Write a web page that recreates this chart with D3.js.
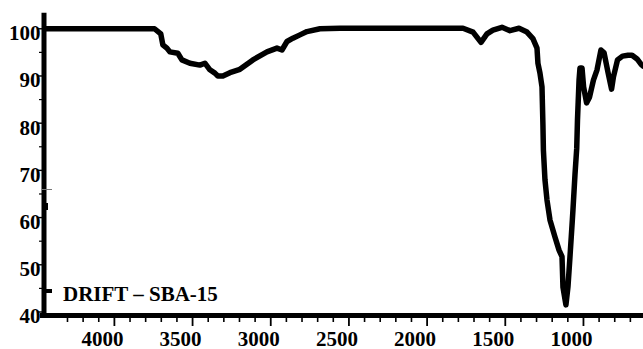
<!DOCTYPE html>
<html>
<head>
<meta charset="utf-8">
<script src="https://cdn.jsdelivr.net/npm/d3@7"></script>
<style>
  html, body { margin: 0; padding: 0; background: #fff; }
  svg { display: block; }
</style>
</head>
<body>
<svg id="chart" width="643" height="349"></svg>
<script>
// DRIFT spectrum of SBA-15: wavenumber (cm-1) and transmittance (%)
const wavenumber = [
  4440, 3740, 3700, 3687, 3661, 3642, 3591, 3565, 3514, 3450, 3418, 3386, 3354, 3335,
  3303, 3258, 3194, 3111, 3021, 2957, 2925, 2893, 2855, 2810, 2765, 2682, 2554, 1767,
  1703, 1652, 1614, 1576, 1518, 1467, 1409, 1358, 1320, 1294, 1288, 1275, 1262, 1256,
  1253, 1243, 1230, 1211, 1179, 1153, 1134, 1128, 1109, 1096, 1083, 1070, 1064, 1051,
  1040, 1035, 1025, 1019, 1006, 996, 977, 958, 933, 910, 885, 865, 840, 817,
  805, 779, 747, 712, 686, 654, 629, 616
];
const transmittance = [
  99.9, 99.9, 98.8, 96.5, 95.8, 95.0, 94.7, 93.3, 92.6, 92.2, 92.6, 91.2, 90.5, 89.9,
  89.9, 90.6, 91.3, 93.3, 95.0, 95.8, 95.4, 97.2, 97.9, 98.6, 99.3, 99.9, 100.0, 100.0,
  99.2, 97.0, 98.8, 99.6, 100.2, 99.5, 100.0, 99.2, 97.8, 95.8, 92.6, 90.5, 87.6, 79.5,
  74.2, 67.9, 63.6, 59.4, 55.8, 53.0, 51.6, 45.2, 41.4, 45.2, 51.6, 58.3, 61.5, 69.0,
  74.5, 80.6, 89.0, 91.6, 91.6, 87.6, 84.2, 85.4, 89.0, 91.2, 95.4, 94.8, 90.7, 87.1,
  89.7, 93.3, 94.1, 94.3, 94.3, 93.5, 92.4, 92.0
];
const xTickValues = [4000, 3500, 3000, 2500, 2000, 1500, 1000];
const xMinorTickValues = d3.range(700, 4400, 100).filter(v => v % 500 !== 0);
const yTickValues = [40, 50, 60, 70, 80, 90, 100];
const yMinorTickValues = [45, 55, 65, 75, 85, 95];
const sampleLabel = "DRIFT – SBA-15";

const svg = d3.select("#chart");
const font = "'Liberation Serif', 'Times New Roman', serif";

const x = d3.scaleLinear().domain([4447, 616]).range([44, 643]);
const y = d3.scaleLinear().domain([39.15, 103.3]).range([315.5, 12.7]);

// x axis: minor ticks, then major ticks with labels
svg.append("g")
  .attr("transform", "translate(0,318)")
  .call(d3.axisBottom(x).tickValues(xMinorTickValues).tickSize(4).tickFormat(""))
  .call(g => g.select(".domain").remove())
  .call(g => g.selectAll("line").attr("stroke", "#000").attr("stroke-width", 1.6));

svg.append("g")
  .attr("transform", "translate(0,318)")
  .call(d3.axisBottom(x).tickValues(xTickValues).tickSize(8).tickFormat(d3.format("d")))
  .call(g => g.select(".domain").remove())
  .call(g => g.selectAll("line").attr("stroke", "#000").attr("stroke-width", 1.8))
  .call(g => g.selectAll("text")
    .attr("y", 27.5).attr("dy", 0).attr("dx", -12)
    .attr("fill", "#000")
    .style("font-family", font).style("font-size", "21px").style("font-weight", "bold"));

// y axis: minor ticks, then major ticks with labels
svg.append("g")
  .attr("transform", "translate(42,0)")
  .call(d3.axisLeft(y).tickValues(yMinorTickValues).tickSize(3).tickFormat(""))
  .call(g => g.select(".domain").remove())
  .call(g => g.selectAll("line").attr("stroke", "#000").attr("stroke-width", 1.2));

svg.append("g")
  .attr("transform", "translate(42,0)")
  .call(d3.axisLeft(y).tickValues(yTickValues).tickSize(4).tickFormat(d3.format("d")))
  .call(g => g.select(".domain").remove())
  .call(g => g.selectAll("line").attr("stroke", "#000").attr("stroke-width", 1.4))
  .call(g => g.selectAll("text")
    .attr("x", -1.5).attr("dy", 11.4)
    .attr("fill", "#000")
    .style("font-family", font).style("font-size", "21px").style("font-weight", "bold"));

// heavy axis frame lines
svg.append("line")
  .attr("x1", 44).attr("x2", 44).attr("y1", 12.7).attr("y2", 318)
  .attr("stroke", "#000").attr("stroke-width", 5);
svg.append("line")
  .attr("x1", 40).attr("x2", 643).attr("y1", 315.5).attr("y2", 315.5)
  .attr("stroke", "#000").attr("stroke-width", 5);

// small marks beside the y axis
svg.append("line")
  .attr("x1", 42).attr("x2", 52).attr("y1", 189.5).attr("y2", 189.5)
  .attr("stroke", "#777").attr("stroke-width", 1);
svg.append("rect")
  .attr("x", 45).attr("y", 203).attr("width", 3).attr("height", 7).attr("fill", "#000");

// spectrum trace
const pts = wavenumber.map((w, i) => [w, transmittance[i]]);
svg.append("path")
  .datum(pts)
  .attr("fill", "none")
  .attr("stroke", "#000")
  .attr("stroke-width", 5.5)
  .attr("stroke-linejoin", "round")
  .attr("stroke-linecap", "round")
  .attr("d", d3.line().x(d => x(d[0])).y(d => y(d[1])));

// sample legend
svg.append("rect")
  .attr("x", 45).attr("y", 289).attr("width", 7).attr("height", 4).attr("fill", "#000");
svg.append("text")
  .attr("x", 63).attr("y", 300.5)
  .attr("fill", "#000")
  .style("font-family", font).style("font-size", "21px").style("font-weight", "bold")
  .text(sampleLabel);
</script>
</body>
</html>
